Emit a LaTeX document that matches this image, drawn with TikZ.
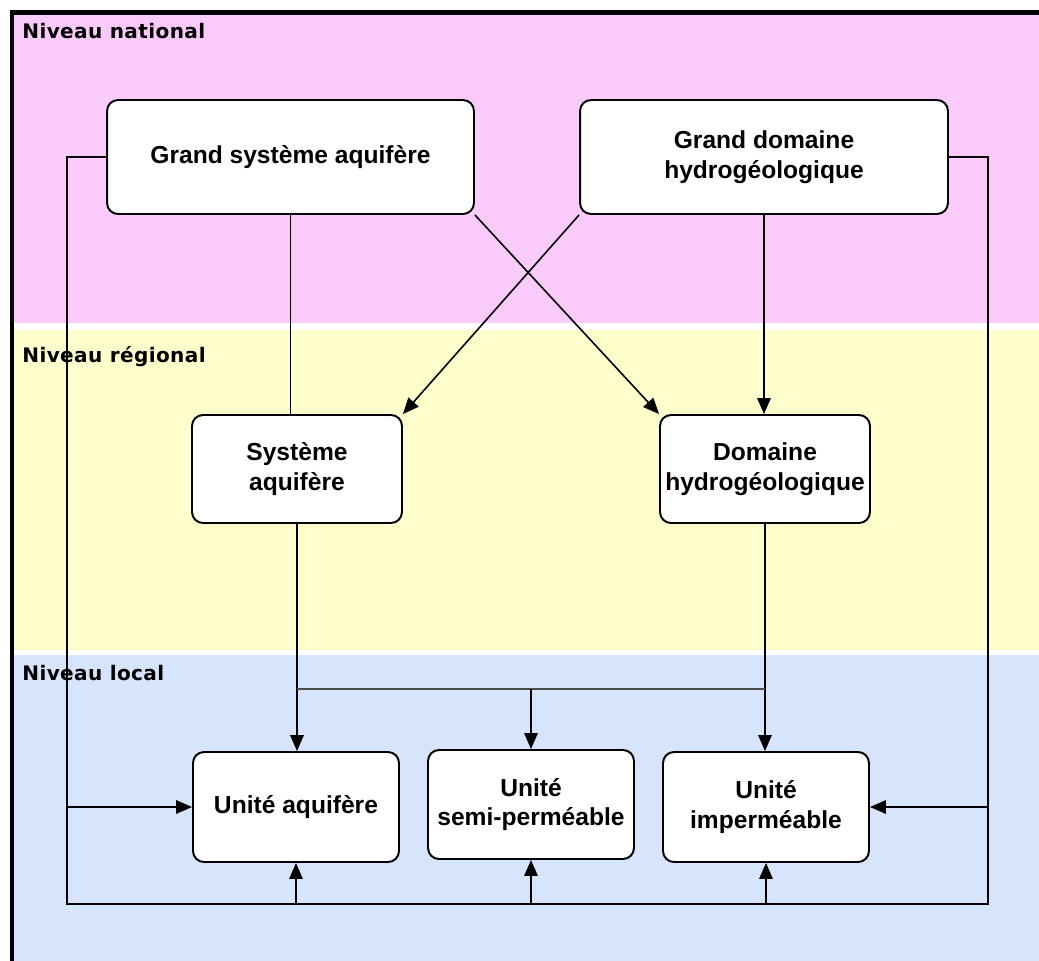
\documentclass[tikz,border=0pt]{standalone}
\usepackage{fontspec}
\setmainfont{Liberation Sans}
\newfontfamily\niveaufont[LetterSpace=2]{DejaVu Sans}
\usetikzlibrary{arrows.meta,positioning,calc}
\definecolor{nationalpink}{RGB}{250,202,250}
\definecolor{regionalyellow}{RGB}{254,254,204}
\definecolor{localblue}{RGB}{214,228,252}
\tikzset{
	boite/.style={draw,rounded corners=0.22cm,fill=white,line width=1.1pt,align=center,inner sep=2pt,font=\fontsize{14}{17}\selectfont\bfseries},
	niveau/.style={anchor=base west,inner sep=0pt,font=\niveaufont\fontsize{11.4}{13}\selectfont\bfseries},
	lien/.style={line width=0.9pt},
	fleche/.style={lien,-{Triangle[length=0.32cm,width=0.27cm]}}
}
\begin{document}
\begin{tikzpicture}[x=0.02cm,y=-0.02cm]
		\useasboundingbox (0,0) rectangle (1039,961);
		
		% les trois niveaux
		\fill[nationalpink] (14,15) rectangle (1039,323);
		\fill[regionalyellow] (14,330) rectangle (1039,650);
		\fill[localblue] (14,655) rectangle (1039,961);
		\draw[line width=2.3pt] (12,961) -- (12,12.5) -- (1039,12.5);
		
		\node[niveau] (national) at (22,38) {Niveau national};
		\node[niveau] (regional) at (22,362) {Niveau régional};
		\node[niveau] (local) at (22,680) {Niveau local};
		
		\node[boite,minimum width=7.34cm,minimum height=2.28cm] (GSA) at (290.5,157) {Grand système aquifère};
		\node[boite,minimum width=7.36cm,minimum height=2.28cm] (GDH) at (764,157) {Grand domaine\\hydrogéologique};
		
		\node[boite,minimum width=4.2cm,minimum height=2.16cm] (SA) at (297,469) {Système\\aquifère};
		\node[boite,minimum width=4.2cm,minimum height=2.16cm] (DH) at (765,469) {Domaine\\hydrogéologique};
		
		\node[boite,minimum width=4.12cm,minimum height=2.2cm] (UA) at (296,807) {Unité aquifère};
		\node[boite,minimum width=4.12cm,minimum height=2.18cm] (USP) at (531,804.5) {Unité\\semi-perméable};
		\node[boite,minimum width=4.12cm,minimum height=2.2cm] (UI) at (766,807) {Unité\\imperméable};
		
		\coordinate (Repartition) at (531,689);
		\coordinate (Gauche) at (67,904);
		\coordinate (Droite) at (988,904);
		
		%\draw[fleche] (GSA) -- (SA);
		\draw[lien] (GSA.south) -- (GSA.south |- SA.north);
		\draw[fleche] (GDH.south) -- (GDH.south |- DH.north);
		\draw[fleche] (GSA.south east) -- (DH.north west);
		\draw[fleche] (GDH.south west) -- (SA.north east);
		
		\draw[fleche] (SA.south) -- (SA.south |- UA.north);
		\draw[fleche] (DH.south) -- (DH.south |- UI.north);
		\draw[lien,black!70] (SA.south |- Repartition) -- (DH.south |- Repartition);
		\draw[fleche] (Repartition) -- (USP.north);
		
		% boucle du bas
		\draw[lien] (GSA.west) -| (Gauche) -- (Droite) |- (GDH.east);
		\draw[fleche] (Gauche |- UA.west) -- (UA.west);
		\draw[fleche] (Droite |- UI.east) -- (UI.east);
		\draw[fleche] (Gauche -| UA.south) -- (UA.south);
		\draw[fleche] (Gauche -| USP.south) -- (USP.south);
		\draw[fleche] (Gauche -| UI.south) -- (UI.south);
		
\end{tikzpicture}
\end{document}
